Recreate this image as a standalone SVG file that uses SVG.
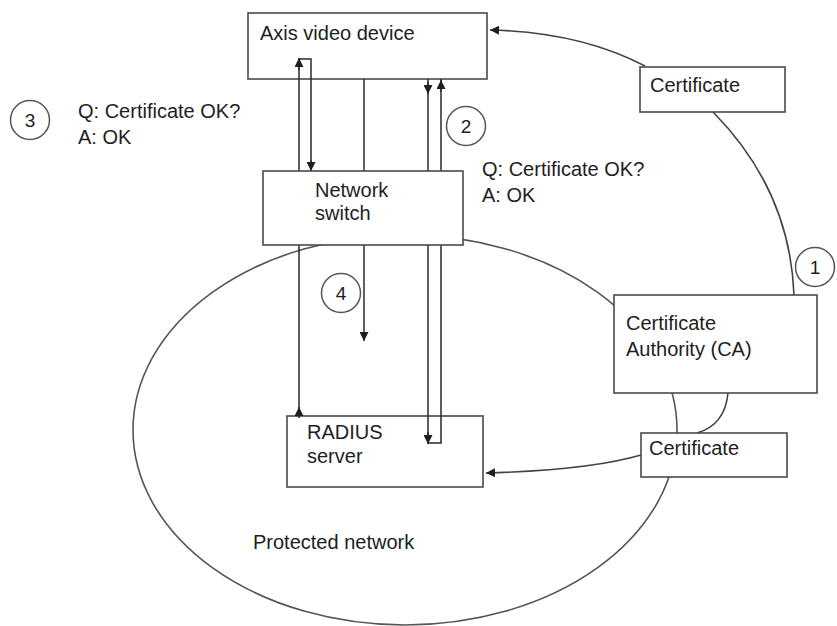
<svg xmlns="http://www.w3.org/2000/svg" width="837" height="626" viewBox="0 0 837 626">
<style>
  .box { fill: #fff; stroke: #4a4a4a; stroke-width: 1.6; }
  .lbl { font-family: "Liberation Sans", Arial, sans-serif; font-size: 20px; fill: #1e1e1e; }
  .num { font-family: "Liberation Sans", Arial, sans-serif; font-size: 19px; fill: #1e1e1e; text-anchor: middle; }
  .circ { fill: none; stroke: #555; stroke-width: 1.5; }
  .ln { fill: none; stroke: #2a2a2a; stroke-width: 1.5; }
  .curve { fill: none; stroke: #444; stroke-width: 1.6; }
</style>
<defs>
  <marker id="arr" viewBox="0 0 10 10" refX="10" refY="5" markerWidth="9" markerHeight="9" markerUnits="userSpaceOnUse" orient="auto">
    <path d="M0,0 L10,5 L0,10 z" fill="#1e1e1e"/>
  </marker>
</defs>
<rect width="837" height="626" fill="#fff"/>

<g id="axis-device">
  <rect class="box" x="248" y="13" width="239" height="66"/>
  <text class="lbl" x="260" y="40">Axis video device</text>
</g>
<g id="radius-server">
  <rect class="box" x="287" y="416" width="196" height="71"/>
  <text class="lbl" x="307" y="439">RADIUS</text>
  <text class="lbl" x="307" y="463">server</text>
</g>

<g id="protected-network">
  <ellipse cx="405" cy="430" rx="272" ry="195" fill="none" stroke="#555" stroke-width="1.6"/>
  <text class="lbl" x="253" y="549">Protected network</text>
</g>

<g id="connectors">
  <!-- left pair: RADIUS -> switch -> Axis -> switch -->
  <path class="ln" d="M299,416 V59 H311 V171"/>
  <path class="ln" d="M299,418 V407" marker-end="url(#arr)"/>
  <path class="ln" d="M299,70 V58" marker-end="url(#arr)"/>
  <path class="ln" d="M311,160 V171" marker-end="url(#arr)"/>
  <!-- middle line -->
  <path class="ln" d="M364,79 V341" marker-end="url(#arr)"/>
  <!-- right pair -->
  <path class="ln" d="M428,79 V443 H441 V79"/>
  <path class="ln" d="M428,82 V94" marker-end="url(#arr)"/>
  <path class="ln" d="M428,432 V444" marker-end="url(#arr)"/>
  <path class="ln" d="M441,92 V80" marker-end="url(#arr)"/>
  <!-- certificate curves -->
  <path class="curve" d="M645,66 Q580,32 490,30" marker-end="url(#arr)"/>
  <path class="curve" d="M713,112 Q790,190 794,295"/>
  <path class="curve" d="M728,393 Q725,425 697,433"/>
  <path class="curve" d="M641,455 Q590,470 486,473" marker-end="url(#arr)"/>
</g>

<g id="network-switch">
  <rect class="box" x="263" y="171" width="200" height="74"/>
  <text class="lbl" x="315" y="197">Network</text>
  <text class="lbl" x="315" y="220">switch</text>
</g>
<g id="certificate-top">
  <rect class="box" x="640" y="67" width="145" height="45"/>
  <text class="lbl" x="650" y="92">Certificate</text>
</g>
<g id="certificate-authority">
  <rect class="box" x="614" y="295" width="203" height="98"/>
  <text class="lbl" x="626" y="330">Certificate</text>
  <text class="lbl" x="626" y="356">Authority (CA)</text>
</g>
<g id="certificate-bottom">
  <rect class="box" x="641" y="433" width="146" height="44"/>
  <text class="lbl" x="649" y="455">Certificate</text>
</g>

<g id="step-1">
  <circle class="circ" cx="815" cy="267" r="19.5"/>
  <text class="num" x="815" y="274">1</text>
</g>
<g id="step-2">
  <circle class="circ" cx="466" cy="126" r="19.5"/>
  <text class="num" x="466" y="133">2</text>
  <text class="lbl" x="482" y="176">Q: Certificate OK?</text>
  <text class="lbl" x="482" y="202">A: OK</text>
</g>
<g id="step-3">
  <circle class="circ" cx="30" cy="120" r="19.5"/>
  <text class="num" x="30" y="127">3</text>
  <text class="lbl" x="78" y="118">Q: Certificate OK?</text>
  <text class="lbl" x="78" y="144">A: OK</text>
</g>
<g id="step-4">
  <circle class="circ" cx="341" cy="293" r="19.5"/>
  <text class="num" x="341" y="300">4</text>
</g>
</svg>
